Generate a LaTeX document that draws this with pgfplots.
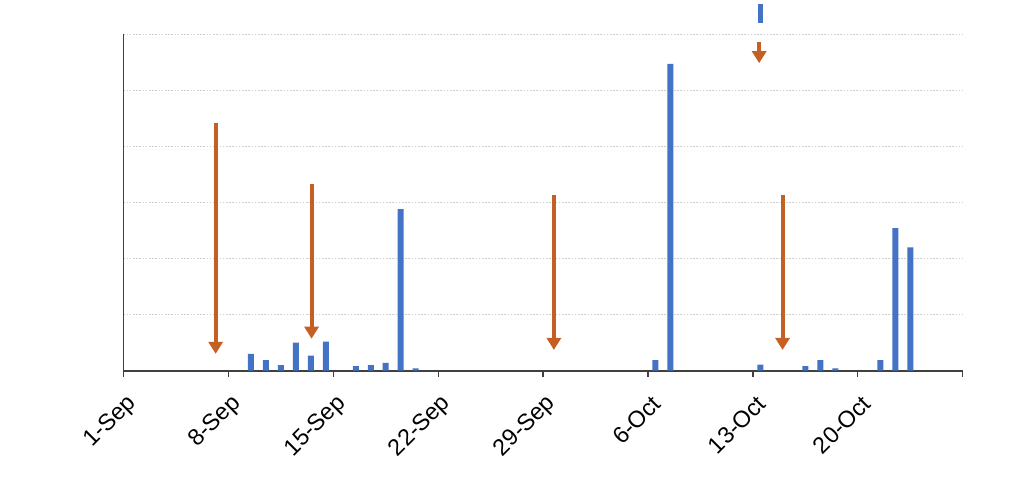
\documentclass[border=0pt]{standalone}
\usepackage{pgfplots}
\pgfplotsset{compat=1.18}
\usepackage{fontspec}
\setmainfont{Liberation Sans}
\usetikzlibrary{arrows.meta}
\definecolor{barblue}{HTML}{4472C4}
\definecolor{arroworange}{HTML}{C46024}
\definecolor{axgray}{HTML}{404040}
\pgfplotsset{arr/.style={draw=arroworange, fill=arroworange, mark=none, line width=3pt, -{Triangle[width=10.5pt,length=9pt]}}}
\pgfplotstableread{
x y
8.5 0.30
9.5 0.19
10.5 0.10
11.5 0.50
12.5 0.27
13.5 0.52
15.5 0.08
16.5 0.10
17.5 0.14
18.5 2.88
19.5 0.04
35.5 0.19
36.5 5.47
42.5 0.11
45.5 0.08
46.5 0.19
47.5 0.04
50.5 0.19
51.5 2.54
52.5 2.20
}\bars
\begin{document}
\begin{tikzpicture}
\useasboundingbox (-92.625pt,-81.225pt) rectangle (675.375pt,278.025pt);
\begin{axis}[
  at={(0,0)}, anchor=south west,
  scale only axis, width=629.4pt, height=252.5pt,
  xmin=0, xmax=56, ymin=0, ymax=6,
  clip=false,
  axis x line*=bottom, axis y line*=left,
  axis line style={draw=axgray, line width=1.3pt},
  xtick={0,7,...,56},
  xticklabels={1-Sep,8-Sep,15-Sep,22-Sep,29-Sep,6-Oct,13-Oct,20-Oct,},
  xtick align=outside,
  major tick length=4.5pt,
  xtick style={draw=axgray, line width=1pt},
  ytick={1,2,3,4,5,6},
  yticklabels={},
  ytick style={draw=none},
  ymajorgrids,
  grid style={draw=black!20, line width=0.8pt, dash pattern=on 1.2pt off 1.2pt},
  xticklabel style={font=\fontsize{17.5}{21}\selectfont, rotate=45, anchor=east, inner sep=0pt, xshift=-7.4pt, yshift=-17pt},
]
\addplot[ybar, bar width=4.5pt, bar shift=0pt, fill=barblue, draw=none] table[x=x,y=y] {\bars};
\addplot[draw=barblue, mark=none, line width=3.3pt] coordinates {(42.5,6.20) (42.5,6.54)};
\addplot[arr] coordinates {(6.15,4.42) (6.15,0.30)};
\addplot[arr] coordinates {(12.55,3.33) (12.55,0.57)};
\addplot[arr] coordinates {(28.72,3.13) (28.72,0.37)};
\addplot[arr] coordinates {(42.42,5.85) (42.42,5.48)};
\addplot[arr] coordinates {(43.98,3.13) (43.98,0.37)};
\end{axis}
\end{tikzpicture}
\end{document}
